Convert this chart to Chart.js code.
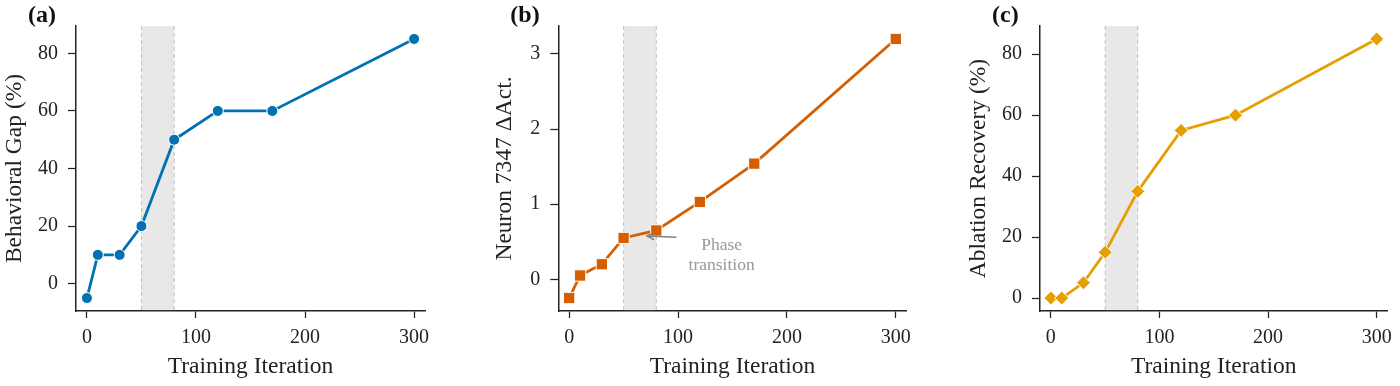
<!DOCTYPE html>
<html>
<head>
<meta charset="utf-8">
<script src="https://cdn.jsdelivr.net/npm/chart.js@4.4.1/dist/chart.umd.min.js"></script>
<style>
  html, body { margin: 0; padding: 0; background: #fff; }
  body { width: 1400px; height: 386px; position: relative; overflow: hidden; }
  .panel { position: absolute; top: 0; height: 386px; }
</style>
</head>
<body>
<div class="panel" style="left:0;width:440px"><canvas id="ca"></canvas></div>
<div class="panel" style="left:470px;width:450px"><canvas id="cb"></canvas></div>
<div class="panel" style="left:940px;width:460px"><canvas id="cc"></canvas></div>
<script>
// ---- data ----
const iterations = [0, 10, 30, 50, 80, 120, 170, 300];
const behavioralGap = [-5, 10, 10, 20, 50, 60, 60, 85];
const neuronDeltaAct = [-0.25, 0.05, 0.2, 0.55, 0.65, 1.03, 1.54, 3.2];
const ablationRecovery = [0, 0, 5, 15, 35, 55, 60, 85];
const xTicks = [0, 100, 200, 300];
const yTicksA = [0, 20, 40, 60, 80];
const yTicksB = [0, 1, 2, 3];
const yTicksC = [0, 20, 40, 60, 80];
const phaseSpan = [50, 80];
const annotationText = ['Phase', 'transition'];
const annotationArrowTip = [71.5, 0.577];
const annotationArrowTail = [98.5, 0.56];
const annotationTextPos = [140, 0.324];

const FONT = "'Liberation Serif', 'Times New Roman', serif";
const AXIS = '#222222';

const spanPlugin = {
  id: 'span',
  beforeDatasetsDraw(chart) {
    const {ctx, chartArea, scales: {x}} = chart;
    const x0 = x.getPixelForValue(phaseSpan[0]);
    const x1 = x.getPixelForValue(phaseSpan[1]);
    ctx.save();
    ctx.fillStyle = 'rgba(128,128,128,0.18)';
    ctx.fillRect(x0, chartArea.top, x1 - x0, chartArea.bottom - chartArea.top);
    ctx.strokeStyle = 'rgba(150,150,150,0.55)';
    ctx.lineWidth = 1;
    ctx.setLineDash([4, 3]);
    [x0, x1].forEach(px => {
      ctx.beginPath();
      ctx.moveTo(px, chartArea.top);
      ctx.lineTo(px, chartArea.bottom);
      ctx.stroke();
    });
    ctx.restore();
  }
};

const panelLabelPlugin = {
  id: 'panelLabel',
  afterDraw(chart, args, opts) {
    const {ctx, chartArea} = chart;
    ctx.save();
    ctx.font = "bold 24px " + FONT;
    ctx.fillStyle = '#111';
    ctx.textAlign = 'left';
    ctx.textBaseline = 'middle';
    ctx.fillText(opts.text, chartArea.left - 48, 16);
    ctx.restore();
  }
};

const annotationPlugin = {
  id: 'phaseAnnot',
  afterDatasetsDraw(chart, args, opts) {
    if (!opts.show) return;
    const {ctx, scales: {x, y}} = chart;
    const tx = x.getPixelForValue(annotationArrowTip[0]);
    const ty = y.getPixelForValue(annotationArrowTip[1]);
    const sx = x.getPixelForValue(annotationArrowTail[0]);
    const sy = y.getPixelForValue(annotationArrowTail[1]);
    ctx.save();
    ctx.strokeStyle = '#808080';
    ctx.lineWidth = 1.5;
    ctx.beginPath();
    ctx.moveTo(sx, sy);
    ctx.lineTo(tx, ty);
    ctx.stroke();
    const ang = Math.atan2(ty - sy, tx - sx);
    const hl = 8, hw = 0.45;
    ctx.beginPath();
    ctx.moveTo(tx - hl * Math.cos(ang - hw), ty - hl * Math.sin(ang - hw));
    ctx.lineTo(tx, ty);
    ctx.lineTo(tx - hl * Math.cos(ang + hw), ty - hl * Math.sin(ang + hw));
    ctx.stroke();
    const cx = x.getPixelForValue(annotationTextPos[0]);
    const cy = y.getPixelForValue(annotationTextPos[1]);
    ctx.font = "17.5px " + FONT;
    ctx.fillStyle = '#999999';
    ctx.textAlign = 'center';
    ctx.textBaseline = 'middle';
    ctx.fillText(annotationText[0], cx, cy - 10);
    ctx.fillText(annotationText[1], cx, cy + 10);
    ctx.restore();
  }
};

function makeChart(id, values, cfg) {
  const data = iterations.map((it, i) => ({x: it, y: values[i]}));
  return new Chart(document.getElementById(id), {
    type: 'line',
    data: {
      datasets: [{
        data,
        borderColor: cfg.color,
        borderWidth: 2.8,
        pointStyle: cfg.pointStyle,
        pointRadius: cfg.pointRadius,
        pointBackgroundColor: cfg.color,
        pointBorderColor: '#ffffff',
        pointBorderWidth: 1,
        tension: 0,
        clip: false
      }]
    },
    options: {
      responsive: true,
      maintainAspectRatio: false,
      animation: false,
      layout: { padding: { left: 0, right: cfg.padRight, top: 26, bottom: 0 } },
      plugins: {
        legend: { display: false },
        tooltip: { enabled: false },
        panelLabel: { text: cfg.label },
        phaseAnnot: { show: !!cfg.annot }
      },
      scales: {
        x: {
          type: 'linear',
          min: -10, max: 310,
          afterBuildTicks: s => { s.ticks = xTicks.map(v => ({value: v})); },
          afterFit: s => { s.height = 75; },
          grid: { drawOnChartArea: false, drawTicks: true, tickLength: 7, tickColor: AXIS, tickWidth: 1.25 },
          border: { display: true, color: AXIS, width: 1.5 },
          ticks: { color: AXIS, font: { family: FONT, size: 20 }, padding: 8, maxRotation: 0 },
          title: { display: true, text: 'Training Iteration', color: AXIS,
                   font: { family: FONT, size: 23.5 }, padding: { top: 0, bottom: 5 } }
        },
        y: {
          type: 'linear',
          min: cfg.yMin, max: cfg.yMax,
          afterBuildTicks: s => { s.ticks = cfg.yTicks.map(v => ({value: v})); },
          afterFit: s => { s.width = cfg.yAxisWidth; },
          grid: { drawOnChartArea: false, drawTicks: true, tickLength: 8, tickColor: AXIS, tickWidth: 1.25 },
          border: { display: true, color: AXIS, width: 1.5 },
          ticks: { color: AXIS, font: { family: FONT, size: 20 }, padding: 10 },
          title: { display: true, text: cfg.yTitle, color: AXIS,
                   font: { family: FONT, size: 23.5 }, padding: { top: cfg.yTitlePad, bottom: 0 } }
        }
      }
    },
    plugins: [spanPlugin, panelLabelPlugin, annotationPlugin]
  });
}

makeChart('ca', behavioralGap, {
  color: '#0072B2', pointStyle: 'circle', pointRadius: 5.5,
  label: '(a)', yTitle: 'Behavioral Gap (%)', yMin: -9.5, yMax: 89.5,
  yTicks: yTicksA, yAxisWidth: 76, padRight: 15, yTitlePad: 1
});
makeChart('cb', neuronDeltaAct, {
  color: '#D55E00', pointStyle: 'rect', pointRadius: 8,
  label: '(b)', yTitle: 'Neuron 7347 \u0394Act.', yMin: -0.4225, yMax: 3.3725,
  yTicks: yTicksB, yAxisWidth: 88.3, padRight: 13.3, yTitlePad: 21, annot: true
});
makeChart('cc', ablationRecovery, {
  color: '#E69F00', pointStyle: 'rectRot', pointRadius: 7,
  label: '(c)', yTitle: 'Ablation Recovery (%)', yMin: -4.25, yMax: 89.25,
  yTicks: yTicksC, yAxisWidth: 100, padRight: 10.7, yTitlePad: 25
});
</script>
</body>
</html>
